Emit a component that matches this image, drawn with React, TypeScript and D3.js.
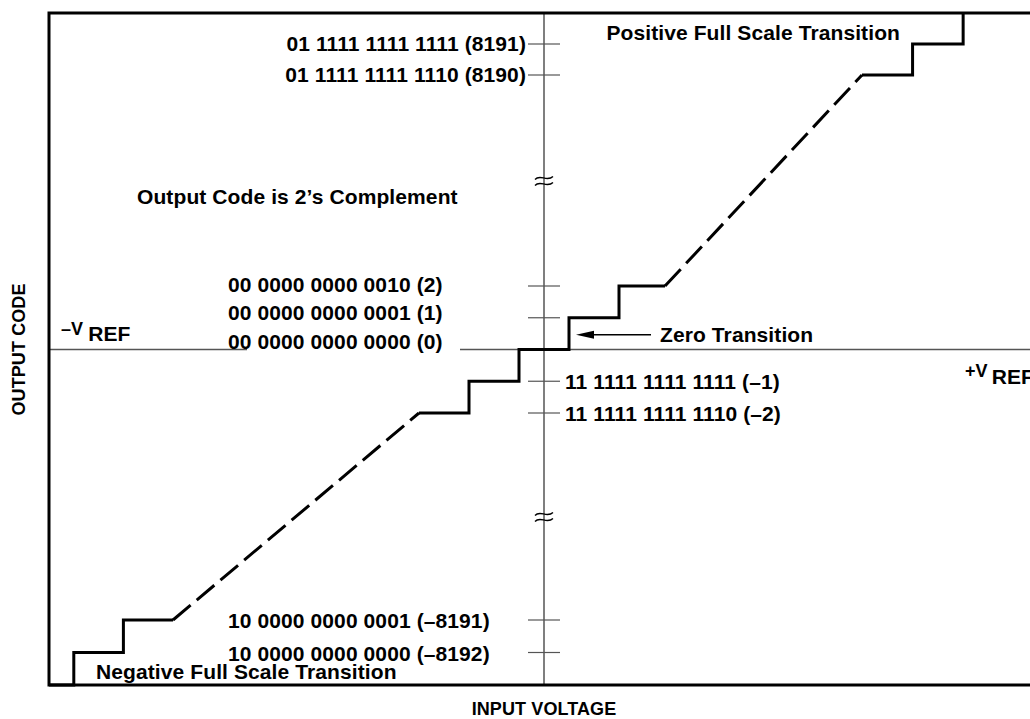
import React from 'react';
import * as d3 from 'd3';

const W = 1030;
const H = 719;

// output codes with a tick on the vertical axis
const tickCodes = [8191, 8190, 2, 1, -1, -2, -8191, -8192];

const upperCodes = [8191, 8190];
const upperLabels = ['01 1111 1111 1111 (8191)', '01 1111 1111 1110 (8190)'];
const zeroCodes = [2, 1, 0];
const zeroLabels = ['00 0000 0000 0010 (2)', '00 0000 0000 0001 (1)', '00 0000 0000 0000 (0)'];
const minusCodes = [-1, -2];
const minusLabels = ['11 1111 1111 1111 (–1)', '11 1111 1111 1110 (–2)'];
const lowerCodes = [-8191, -8192];
const lowerLabels = ['10 0000 0000 0001 (–8191)', '10 0000 0000 0000 (–8192)'];

// transfer curve: [input voltage in LSB, output code]
const lowStair: [number, number][] = [
  [-8192, -8193], [-8191.5, -8193], [-8191.5, -8192], [-8190.5, -8192],
  [-8190.5, -8191], [-8189.5, -8191],
];
const lowDash: [number, number][] = [[-8189.5, -8191], [-2.5, -2]];
const midStair: [number, number][] = [
  [-2.5, -2], [-1.5, -2], [-1.5, -1], [-0.5, -1], [-0.5, 0], [0.5, 0],
  [0.5, 1], [1.5, 1], [1.5, 2], [2.42, 2],
];
const highDash: [number, number][] = [[2.42, 2], [8189.5, 8190]];
const highStair: [number, number][] = [
  [8189.5, 8190], [8190.5, 8190], [8190.5, 8191], [8191.5, 8191], [8191.5, 8192],
];

const FONT = '"Liberation Sans", Arial, Helvetica, sans-serif';

export default function App() {
  // broken axes: full-scale ends are squeezed next to the centre region
  const x = d3.scaleLinear()
    .domain([-8192, -8189.5, -2.5, 2.42, 8189.5, 8193])
    .range([49, 173, 419, 665, 862, 1039]);
  const y = d3.scaleLinear()
    .domain([-8193, -8191, -2, 2, 8190, 8192])
    .range([685, 620, 413, 286, 75, 13]);

  const line = d3.line<[number, number]>().x(d => x(d[0])).y(d => y(d[1]));

  const x0 = x(0);
  const y0 = y(0);
  const left = x(-8192);
  const right = x(8193);
  const top = y(8192);
  const bottom = y(-8193);

  const breakUp = (y(2) + y(8190)) / 2;
  const breakLow = (y(-2) + y(-8191)) / 2;
  const tilde = (cy: number) =>
    `M${x0 - 9},${cy + 2} C${x0 - 4},${cy - 4} ${x0 + 3},${cy + 5} ${x0 + 9},${cy - 1}`;

  const arrowY = (y(0) + y(1)) / 2 + 1;
  const arrowTip = x(0.5) + 7;

  const textProps = { fontFamily: FONT, fontWeight: 700, fontSize: 21, letterSpacing: 0.1, fill: '#000' };

  return (
    <svg width={W} height={H} style={{ position: 'absolute', left: 0, top: 0, background: '#fff' }}>
      {/* horizontal axis, interrupted behind the (0) label */}
      <line x1={left} x2={247} y1={y0} y2={y0} stroke="#555" strokeWidth={1.5} />
      <line x1={460} x2={W + 20} y1={y0} y2={y0} stroke="#555" strokeWidth={1.5} />
      {/* vertical axis */}
      <line x1={x0} x2={x0} y1={top} y2={bottom} stroke="#555" strokeWidth={1.5} />
      {tickCodes.map(c => (
        <line key={c} x1={x0 - 16} x2={x0 + 16} y1={y(c)} y2={y(c)} stroke="#555" strokeWidth={1.2} />
      ))}
      {[breakUp - 3, breakUp + 3, breakLow - 3, breakLow + 3].map((cy, i) => (
        <path key={i} d={tilde(cy)} fill="none" stroke="#000" strokeWidth={1.3} />
      ))}

      {/* frame */}
      <rect x={left} y={top} width={right - left} height={bottom - top} fill="none" stroke="#000" strokeWidth={3} />

      {/* transfer curve */}
      {[lowStair, midStair, highStair].map((d, i) => (
        <path key={'s' + i} d={line(d) || ''} fill="none" stroke="#000" strokeWidth={3} strokeLinejoin="miter" />
      ))}
      {[lowDash, highDash].map((d, i) => (
        <path key={'d' + i} d={line(d) || ''} fill="none" stroke="#000" strokeWidth={3} strokeDasharray="23,8" />
      ))}

      {/* code labels */}
      {upperCodes.map((c, i) => (
        <text key={c} x={x0 - 18} y={y(c) + 7} textAnchor="end" {...textProps}>{upperLabels[i]}</text>
      ))}
      {zeroCodes.map((c, i) => (
        <text key={c} x={228} y={y0 - 1 - c * 28.5} {...textProps}>{zeroLabels[i]}</text>
      ))}
      {minusCodes.map((c, i) => (
        <text key={c} x={x0 + 21} y={y(c) + 8} {...textProps}>{minusLabels[i]}</text>
      ))}
      {lowerCodes.map((c, i) => (
        <text key={c} x={228} y={y(c) + 8} {...textProps}>{lowerLabels[i]}</text>
      ))}

      <text x={900} y={40} textAnchor="end" {...textProps}>Positive Full Scale Transition</text>
      <text x={96} y={679} {...textProps}>Negative Full Scale Transition</text>
      <text x={137} y={204} {...textProps}>Output Code is 2’s Complement</text>

      {/* zero transition marker */}
      <line x1={arrowTip + 14} x2={arrowTip + 75} y1={arrowY} y2={arrowY} stroke="#000" strokeWidth={1.5} />
      <path d={`M${arrowTip},${arrowY} L${arrowTip + 18},${arrowY - 4} L${arrowTip + 18},${arrowY + 4} Z`} fill="#000" />
      <text x={660} y={arrowY + 7} {...textProps}>Zero Transition</text>

      {/* reference voltages */}
      <text x={61} y={341} {...textProps}>
        <tspan fontSize={18} dy={-6}>–V</tspan>
        <tspan dx={5} dy={6}>REF</tspan>
      </text>
      <text x={965} y={384} {...textProps}>
        <tspan fontSize={18} dy={-7}>+V</tspan>
        <tspan dx={4} dy={7}>REF</tspan>
      </text>

      {/* axis titles */}
      <text x={x0} y={715} textAnchor="middle" {...textProps} fontSize={18}>INPUT VOLTAGE</text>
      <text transform={`translate(25,${y0}) rotate(-90)`} textAnchor="middle" {...textProps} fontSize={18}>OUTPUT CODE</text>
    </svg>
  );
}
